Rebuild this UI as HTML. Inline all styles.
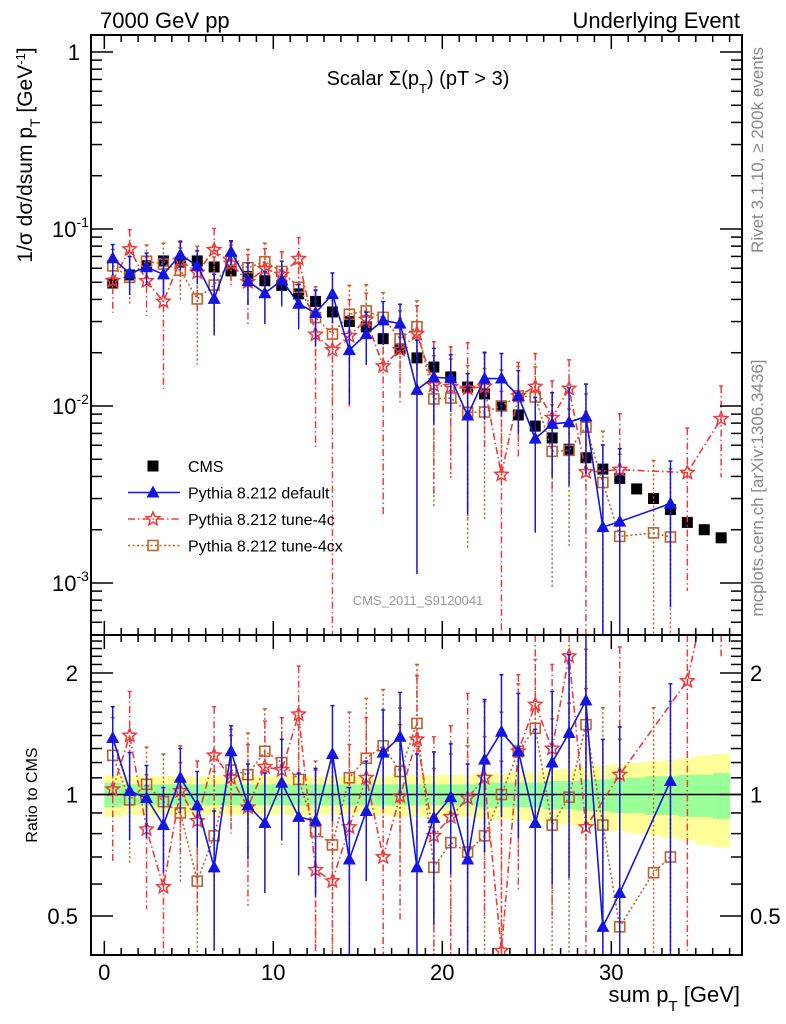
<!DOCTYPE html>
<html><head><meta charset="utf-8"><style>
html,body{margin:0;padding:0;background:#fff;overflow:hidden;width:786px;height:1024px;}
svg{display:block;font-family:"Liberation Sans",sans-serif;}
</style></head><body>
<svg id="c" width="786" height="1024" viewBox="0 0 786 1024" xmlns="http://www.w3.org/2000/svg">
<defs>
<clipPath id="cm"><rect x="91" y="35" width="651" height="600"/></clipPath>
<clipPath id="cr"><rect x="91" y="635" width="651" height="320"/></clipPath>
</defs>
<g id="band" clip-path="url(#cr)"></g>
<g id="marks"></g>
<rect x="91" y="35" width="651" height="920" fill="none" stroke="#000" stroke-width="2"/>
<line x1="91" y1="635" x2="742" y2="635" stroke="#000" stroke-width="2"/>
<g id="ticks"></g>
<text x="100" y="28" font-size="22">7000 GeV pp</text>
<text x="740" y="28" font-size="22" text-anchor="end">Underlying Event</text>
<text x="418" y="85" font-size="20" text-anchor="middle">Scalar Σ(p<tspan baseline-shift="sub" font-size="13">T</tspan>) (pT &gt;  3)</text>
<text transform="translate(32,155) rotate(-90)" font-size="21" text-anchor="middle">1/σ dσ/dsum p<tspan baseline-shift="sub" font-size="14">T</tspan> [GeV<tspan baseline-shift="super" font-size="13">-1</tspan>]</text>
<text transform="translate(763,150) rotate(-90)" font-size="17" fill="#888" text-anchor="middle">Rivet 3.1.10, ≥ 200k events</text>
<text transform="translate(763,488) rotate(-90)" font-size="17" fill="#888" text-anchor="middle">mcplots.cern.ch [arXiv:1306.3436]</text>
<text x="418" y="605" font-size="13" fill="#999" text-anchor="middle">CMS_2011_S9120041</text>
<text transform="translate(37,795) rotate(-90)" font-size="16" text-anchor="middle">Ratio to CMS</text>
<text x="740" y="1002" font-size="22" text-anchor="end">sum p<tspan baseline-shift="sub" font-size="15">T</tspan> [GeV]</text>
<g id="legend"></g>
</svg>
<script>
// ---- data ----
const binCenters = [0.5,1.5,2.5,3.5,4.5,5.5,6.5,7.5,8.5,9.5,10.5,11.5,12.5,13.5,14.5,15.5,16.5,17.5,18.5,19.5,20.5,21.5,22.5,23.5,24.5,25.5,26.5,27.5,28.5,29.5,30.5,31.5,32.5,33.5,34.5,35.5,36.5];
const cmsValues = [0.0495,0.055,0.062,0.066,0.065,0.066,0.061,0.058,0.054,0.051,0.048,0.043,0.039,0.034,0.030,0.028,0.024,0.021,0.0187,0.0166,0.0146,0.0128,0.0117,0.0100,0.0089,0.0077,0.0066,0.0057,0.0051,0.0044,0.0039,0.0034,0.0030,0.0026,0.0022,0.0020,0.0018];
const bandYellow = [0.12,0.11,0.11,0.11,0.11,0.11,0.11,0.11,0.11,0.11,0.11,0.11,0.11,0.11,0.11,0.11,0.11,0.12,0.12,0.12,0.12,0.12,0.13,0.13,0.14,0.14,0.15,0.16,0.17,0.18,0.19,0.20,0.21,0.22,0.23,0.25,0.26];
const bandGreen = [0.07,0.06,0.06,0.06,0.06,0.06,0.06,0.06,0.06,0.06,0.06,0.06,0.06,0.06,0.06,0.06,0.06,0.06,0.06,0.06,0.06,0.06,0.07,0.07,0.07,0.07,0.08,0.08,0.09,0.09,0.10,0.10,0.11,0.11,0.12,0.12,0.13];
const ratioDefault = [1.38,1.02,0.98,0.84,1.10,0.94,0.66,1.28,0.94,0.85,1.07,0.88,0.86,1.26,0.69,0.91,1.27,1.39,0.66,0.875,0.985,0.69,1.22,1.43,1.28,0.85,1.20,1.42,1.71,0.47,0.57,null,null,1.08];
const errDefault = [0.27,0.25,0.2,0.2,0.2,0.2,0.25,0.2,0.25,0.28,0.3,0.25,0.3,0.4,0.35,0.3,0.35,0.4,0.6,0.4,0.35,0.5,0.5,0.55,0.5,0.6,0.6,0.8,0.9,0.9,0.9,null,null,0.8];
const ratioTune4c = [1.03,1.40,0.82,0.59,1.02,0.86,1.25,1.10,0.93,1.17,1.15,1.58,0.65,0.61,0.83,1.10,0.70,0.99,1.37,0.79,0.88,0.98,1.10,0.41,1.28,1.67,1.30,2.2,0.83,null,1.12,null,null,null,1.91,null,4.7];
const errTune4c = [0.35,0.4,0.3,0.4,0.3,0.35,0.4,0.3,0.4,0.35,0.4,0.5,0.5,0.6,0.5,0.45,0.6,0.5,0.6,0.6,0.6,0.8,0.6,0.8,0.7,0.9,0.8,1.0,1.0,null,1.2,null,null,null,1.5,null,2.5];
const ratioTune4cx = [1.25,0.97,1.06,0.96,0.90,0.61,0.79,1.15,1.12,1.28,1.20,1.09,0.81,0.75,1.10,1.23,1.32,1.14,1.50,0.66,0.76,0.72,0.79,1.0,1.28,1.46,0.84,0.985,1.49,0.84,0.47,null,0.64,0.70];
const errTune4cx = [0.3,0.3,0.25,0.3,0.3,0.35,0.35,0.3,0.3,0.35,0.35,0.4,0.4,0.45,0.5,0.5,0.5,0.5,0.6,0.5,0.5,0.6,0.6,0.6,0.6,0.7,0.7,0.7,0.8,0.8,0.9,null,1.0,1.0];
const xTicks = [0,10,20,30];
const yTicksMain = [1,0.1,0.01,0.001];
const yTickExp = ["","-1","-2","-3"];
const ratioTicks = [0.5,1,2];
const ratioTickLabels = ["0.5","1","2"];
const legendLabels = ["CMS","Pythia 8.212 default","Pythia 8.212 tune-4c","Pythia 8.212 tune-4cx"];

// ---- axes ----
const X = v => 104.3 + 16.9*v;
const Ym = v => 52 - 177*Math.log10(v);
const Yr = r => 794.5 - 403.6*Math.log10(r);
const clampY = (y,lo,hi) => Math.max(lo, Math.min(hi, y));
const NS = "http://www.w3.org/2000/svg";
function mk(tag, attrs, parent){const e=document.createElementNS(NS,tag);for(const k in attrs)e.setAttribute(k,attrs[k]);parent.appendChild(e);return e;}
const marks = document.getElementById('marks');
const band = document.getElementById('band');
const ticks = document.getElementById('ticks');

for(let i=0;i<binCenters.length;i++){
  const x0=X(binCenters[i]-0.5), w=16.9;
  const y=mk('rect',{x:x0,y:Yr(1+bandYellow[i]),width:w+0.5,height:Yr(1-bandYellow[i])-Yr(1+bandYellow[i]),fill:'#ffff99'},band);
  
  
  const g=mk('rect',{x:x0,y:Yr(1+bandGreen[i]),width:w+0.5,height:Yr(1-bandGreen[i])-Yr(1+bandGreen[i]),fill:'#99ff99'},band);
  
  
}
const one=mk('line',{x1:91,x2:742,y1:Yr(1),y2:Yr(1),stroke:'#000','stroke-width':1.5},band);



function starPts(cx,cy,R){const r=R*0.45;let p=[];for(let k=0;k<10;k++){const a=-Math.PI/2+k*Math.PI/5;const rr=k%2?r:R;p.push((cx+rr*Math.cos(a)).toFixed(1)+','+(cy+rr*Math.sin(a)).toFixed(1));}return p.join(' ');}
function marker(type,cx,cy,parent,color){
  let e;
  if(type==='tri') e=mk('polygon',{points:`${cx},${cy-7} ${cx-6.5},${cy+5} ${cx+6.5},${cy+5}`,fill:color},parent);
  else if(type==='star') e=mk('polygon',{points:starPts(cx,cy,7),fill:'none',stroke:color,'stroke-width':1.5},parent);
  else if(type==='sq') e=mk('rect',{x:cx-5,y:cy-5,width:10,height:10,fill:'#fff','fill-opacity':0,stroke:color,'stroke-width':1.6},parent);
  else e=mk('rect',{x:cx-5.5,y:cy-5.5,width:11,height:11,fill:color},parent);
  
  
  return e;
}
function drawSeries(ratio,err,color,dash,type,name){
  for(const panel of ['main','ratio']){
    const g=mk('g',{'clip-path':panel==='main'?'url(#cm)':'url(#cr)'},marks);
    
    
    const top = panel==='main'?35:635, bot = panel==='main'?635:955;
    const Y = panel==='main' ? (i,r)=>Ym(r*cmsValues[i]) : (i,r)=>Yr(r);
    let pts=[];
    for(let i=0;i<ratio.length;i++){
      if(ratio[i]==null) continue;
      const x=X(binCenters[i]);
      const hi=ratio[i]+err[i], lo=Math.max(ratio[i]-err[i],0.0001);
      const yh=clampY(Y(i,hi),top,bot), yl=clampY(Y(i,lo),top,bot);
      const eb=mk('line',{x1:x,x2:x,y1:yh,y2:yl,stroke:color,'stroke-width':1.5,'stroke-dasharray':dash},g);
      
      
      if(Y(i,hi)>top) mk('line',{x1:x-2,x2:x+2,y1:yh,y2:yh,stroke:color,'stroke-width':1.5},g);
      pts.push(x.toFixed(1)+','+Y(i,ratio[i]).toFixed(1));
    }
    const pl=mk('polyline',{points:pts.join(' '),fill:'none',stroke:color,'stroke-width':1.6,'stroke-dasharray':dash},g);
    
    
    for(let i=0;i<ratio.length;i++){
      if(ratio[i]==null) continue;
      const yy=Y(i,ratio[i]);
      if(yy<top-10||yy>bot+10) continue;
      marker(type,X(binCenters[i]),yy,g,color);
    }
  }
}
const cmsG=mk('g',{'clip-path':'url(#cm)'},marks);


for(let i=0;i<cmsValues.length;i++) marker('cms',X(binCenters[i]),Ym(cmsValues[i]),cmsG,'#000');
drawSeries(ratioTune4cx,errTune4cx,'#c0622a','2,2.5','sq','tune-4cx');
drawSeries(ratioTune4c,errTune4c,'#ee3b3b','7,3,1.5,3','star','tune-4c');
drawSeries(ratioDefault,errDefault,'#1515e0','','tri','default');

function tl(x1,y1,x2,y2){mk('line',{x1,y1,x2,y2,stroke:'#000','stroke-width':1.5},ticks);}
for(let v=0;v<=37;v++){
  const x=X(v), L=(v%10===0)?14:7;
  tl(x,955,x,955-L); tl(x,635,x,635-L); tl(x,635,x,635+L); tl(x,35,x,35+L);
}
xTicks.forEach(v=>{const t=mk('text',{x:X(v),y:980,'font-size':22,'text-anchor':'middle'},ticks);t.textContent=v;

});
for(let d=0;d>=-3;d--){for(let m=1;m<10;m++){const v=m*Math.pow(10,d-1);const y=Ym(v);if(y<37||y>633)continue;const L=m===1?22:11;tl(91,y,91+L,y);tl(742,y,742-L,y);}}
const yv1=Ym(1);tl(91,yv1,113,yv1);tl(742,yv1,720,yv1);
yTicksMain.forEach((v,k)=>{const t=mk('text',{x:k===0?80:52,y:Ym(v)+8,'font-size':22,'text-anchor':k===0?'end':'start'},ticks);
t.textContent=k===0?'1':'10';
if(k>0){const s=mk('tspan',{'font-size':14,dy:-10},t);s.textContent=yTickExp[k];}

});
for(let r=0.4;r<=2.45;r+=0.1){const rr=Math.round(r*10)/10;const y=Yr(rr);if(y<637||y>953)continue;const major=(rr===0.5||rr===1||rr===2);const L=major?22:11;tl(91,y,91+L,y);tl(742,y,742-L,y);}
ratioTicks.forEach((v,k)=>{
  const t=mk('text',{x:78,y:Yr(v)+8,'font-size':22,'text-anchor':'end'},ticks);t.textContent=ratioTickLabels[k];
  
  
  const t2=mk('text',{x:750,y:Yr(v)+8,'font-size':22},ticks);t2.textContent=ratioTickLabels[k];
  
  
});

const lg=document.getElementById('legend');
const lgStyle=[['#000','','cms'],['#1515e0','','tri'],['#ee3b3b','7,3,1.5,3','star'],['#c0622a','2,2.5','sq']];
legendLabels.forEach((lab,k)=>{
  const y=466+k*26.5;
  const g=mk('g',{},lg);
  
  
  if(k>0) mk('line',{x1:128,x2:180,y1:y,y2:y,stroke:lgStyle[k][0],'stroke-width':1.6,'stroke-dasharray':lgStyle[k][1]},g);
  marker(lgStyle[k][2],153,y,g,lgStyle[k][0]);
  const t=mk('text',{x:188,y:y+6,'font-size':16},g);t.textContent=lab;
});
</script>
</body></html>
